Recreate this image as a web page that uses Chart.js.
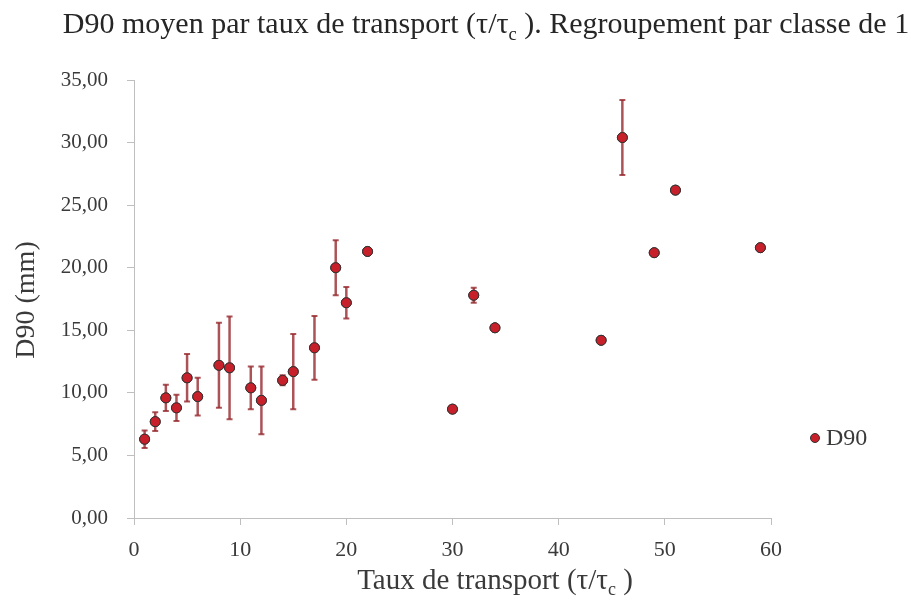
<!DOCTYPE html>
<html>
<head>
<meta charset="utf-8">
<script src="https://cdn.jsdelivr.net/npm/chart.js@4/dist/chart.umd.min.js"></script>
<style>
html,body{margin:0;padding:0;background:#fff;}
#wrap{position:relative;width:911px;height:600px;}
</style>
</head>
<body>
<div id="wrap"><canvas id="c" width="911" height="600"></canvas></div>
<script>
const seriesName = "D90";
const xVals = [1,2,3,4,5,6,8,9,11,12,14,15,17,19,20,22,30,32,34,44,46,49,51,59];
const d90   = [6.3,7.7,9.6,8.8,11.2,9.7,12.2,12.0,10.4,9.4,11.0,11.7,13.6,20.0,17.2,21.3,8.7,17.8,15.2,14.2,30.4,21.2,26.2,21.6];
const d90Err= [0.7,0.75,1.05,1.05,1.9,1.5,3.4,4.1,1.7,2.7,0.4,3.0,2.55,2.2,1.25,0,0,0.6,0,0,3.0,0,0,0];
const xTicks = [0,10,20,30,40,50,60];
const yTicks = [0,5,10,15,20,25,30,35];

const FONT = '"Liberation Serif", "DejaVu Serif", serif';
const TXT = '#3a3a3a';

function drawParts(ctx, parts, cx, y, size) {
  let total = 0;
  const widths = parts.map(p => {
    ctx.font = (p.sub ? size*0.62 : size) + 'px ' + FONT;
    const w = ctx.measureText(p.t).width;
    total += w; return w;
  });
  let x = cx - total/2;
  ctx.textBaseline = 'alphabetic';
  ctx.textAlign = 'left';
  parts.forEach((p,i) => {
    ctx.font = (p.sub ? size*0.62 : size) + 'px ' + FONT;
    ctx.fillText(p.t, x, y + (p.sub ? size*0.22 : 0));
    x += widths[i];
  });
}

const decor = {
  id: 'decor',
  afterDatasetsDraw(chart) {
    const ctx = chart.ctx;
    const xs = chart.scales.x, ys = chart.scales.y;
    ctx.save();
    ctx.strokeStyle = 'rgba(150,40,45,0.8)';
    for (let i = 0; i < xVals.length; i++) {
      const e = d90Err[i];
      if (!e) continue;
      const px = xs.getPixelForValue(xVals[i]);
      const top = ys.getPixelForValue(d90[i] + e);
      const bot = ys.getPixelForValue(d90[i] - e);
      ctx.lineWidth = 2.5;
      ctx.beginPath(); ctx.moveTo(px, top); ctx.lineTo(px, bot); ctx.stroke();
      ctx.lineWidth = 2;
      ctx.beginPath();
      ctx.moveTo(px-3, top); ctx.lineTo(px+3, top);
      ctx.moveTo(px-3, bot); ctx.lineTo(px+3, bot);
      ctx.stroke();
    }
    ctx.restore();
    const meta = chart.getDatasetMeta(0);
    meta.data.forEach(pt => pt.draw(ctx));
  },
  afterDraw(chart) {
    const ctx = chart.ctx;
    ctx.save();
    ctx.fillStyle = '#262626';
    drawParts(ctx, [{t:'D90 moyen par taux de transport (τ/τ'},{t:'c',sub:true},{t:' ). Regroupement par classe de 1'}], 486, 33, 30);
    ctx.fillStyle = TXT;
    drawParts(ctx, [{t:'Taux de transport (τ/τ'},{t:'c',sub:true},{t:' )'}], 495, 589, 29);
    ctx.save();
    ctx.translate(34, 300);
    ctx.rotate(-Math.PI/2);
    ctx.font = '28px ' + FONT;
    ctx.textAlign = 'center';
    ctx.textBaseline = 'alphabetic';
    ctx.fillText('D90 (mm)', 0, 0);
    ctx.restore();
    ctx.beginPath();
    ctx.arc(815, 438, 4.5, 0, Math.PI*2);
    ctx.fillStyle = '#c8202a';
    ctx.fill();
    ctx.lineWidth = 1;
    ctx.strokeStyle = '#333';
    ctx.stroke();
    ctx.fillStyle = TXT;
    ctx.font = '24px ' + FONT;
    ctx.textAlign = 'left';
    ctx.textBaseline = 'middle';
    ctx.fillText(seriesName, 826, 439);
    ctx.restore();
  }
};

new Chart(document.getElementById('c'), {
  type: 'scatter',
  data: {
    datasets: [{
      label: seriesName,
      data: xVals.map((x,i) => ({x: x, y: d90[i]})),
      backgroundColor: '#c8202a',
      borderColor: '#333333',
      borderWidth: 1,
      pointRadius: 5,
      pointHoverRadius: 5
    }]
  },
  options: {
    responsive: false,
    animation: false,
    events: [],
    layout: { padding: { left: 0, right: 140, top: 80, bottom: 0 } },
    plugins: { legend: { display: false }, title: { display: false }, tooltip: { enabled: false } },
    scales: {
      x: {
        type: 'linear', min: 0, max: 60,
        afterBuildTicks: s => { s.ticks = xTicks.map(v => ({value: v})); },
        afterFit: s => { s.height = 82; },
        grid: { drawOnChartArea: false, color: '#bfbfbf', tickLength: 7, lineWidth: 1 },
        border: { color: '#bfbfbf', width: 1 },
        ticks: { color: TXT, font: { family: FONT, size: 22 }, padding: 12, maxRotation: 0 }
      },
      y: {
        type: 'linear', min: 0, max: 35,
        afterBuildTicks: s => { s.ticks = yTicks.map(v => ({value: v})); },
        afterFit: s => { s.width = 134; },
        grid: { drawOnChartArea: false, color: '#bfbfbf', tickLength: 7, lineWidth: 1 },
        border: { color: '#bfbfbf', width: 1 },
        ticks: { color: TXT, font: { family: FONT, size: 21 }, padding: 19,
                 callback: v => v.toFixed(2).replace('.', ',') }
      }
    }
  },
  plugins: [decor]
});
</script>
</body>
</html>
